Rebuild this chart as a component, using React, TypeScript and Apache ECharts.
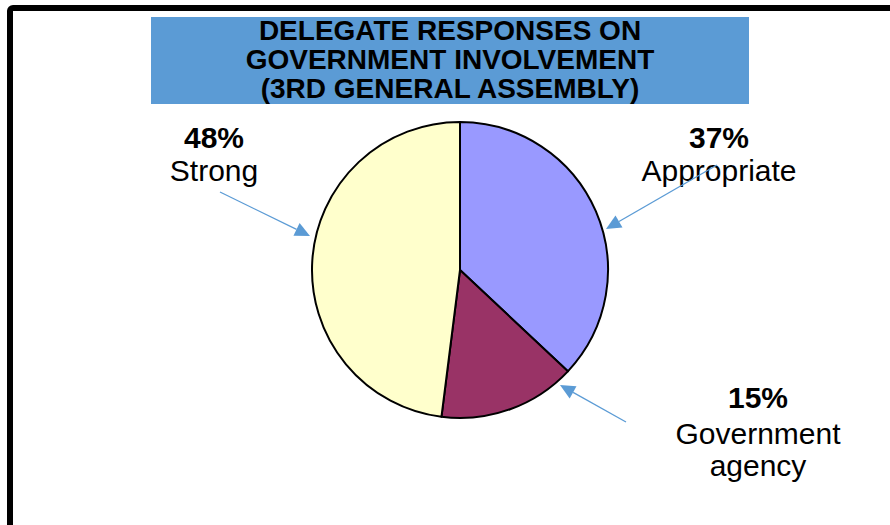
import React, { useEffect, useRef } from "react";
import * as echarts from "echarts";

// ---- data ----
const categories = ["Appropriate", "Government agency", "Strong"];
const values = [37, 15, 48];
const colors = ["#9999FF", "#993366", "#FFFFCC"];
const labelLines = [["Appropriate"], ["Government", "agency"], ["Strong"]];
const titleLines = ["DELEGATE RESPONSES ON", "GOVERNMENT INVOLVEMENT", "(3RD GENERAL ASSEMBLY)"];

// ---- layout (annotation placement) ----
const FONT = "'Liberation Sans', Arial, Helvetica, sans-serif";
const labelPos = [
  { x: 719, y: 137 },
  { x: 758, y: 397 },
  { x: 214, y: 137 },
];
const arrows = [
  { from: [717, 165], to: [606, 229] },
  { from: [626, 422], to: [560, 385] },
  { from: [220, 192], to: [310, 236] },
];

function arrowGraphics(a: { from: number[]; to: number[] }) {
  const [x1, y1] = a.from;
  const [x2, y2] = a.to;
  const dx = x2 - x1, dy = y2 - y1;
  const len = Math.sqrt(dx * dx + dy * dy);
  const ux = dx / len, uy = dy / len;
  const hl = 15, hw = 7;
  const bx = x2 - ux * hl, by = y2 - uy * hl;
  const px = -uy, py = ux;
  return [
    {
      type: "line",
      shape: { x1, y1, x2: bx, y2: by },
      style: { stroke: "#5B9BD5", lineWidth: 1.3 },
      z: 10,
    },
    {
      type: "polygon",
      shape: {
        points: [
          [x2, y2],
          [bx + px * hw, by + py * hw],
          [bx - px * hw, by - py * hw],
        ],
      },
      style: { fill: "#5B9BD5" },
      z: 10,
    },
  ];
}

export default function App() {
  const ref = useRef<HTMLDivElement>(null);
  useEffect(() => {
    document.body.style.margin = "0";
    const chart = echarts.init(ref.current!, null, { renderer: "svg" });
    const graphics: any[] = [];
    // frame
    graphics.push({
      type: "rect",
      shape: { x: 10, y: 8, width: 1000, height: 1000, r: 3 },
      style: { fill: "none", stroke: "#000", lineWidth: 6 },
      z: 1,
    });
    // title box
    graphics.push({
      type: "rect",
      shape: { x: 151, y: 17, width: 598, height: 87 },
      style: { fill: "#5B9BD5" },
      z: 2,
    });
    titleLines.forEach((t, i) => {
      graphics.push({
        type: "text",
        x: 450,
        y: 30 + i * 29,
        style: {
          text: t,
          fill: "#000",
          font: `bold 28px ${FONT}`,
          align: "center",
          verticalAlign: "middle",
        },
        z: 3,
      });
    });
    // labels
    categories.forEach((c, i) => {
      const p = labelPos[i];
      graphics.push({
        type: "text",
        x: p.x,
        y: p.y,
        style: {
          text: `${values[i]}%`,
          fill: "#000",
          font: `bold 30px ${FONT}`,
          align: "center",
          verticalAlign: "middle",
        },
        z: 5,
      });
      labelLines[i].forEach((l, j) => {
        graphics.push({
          type: "text",
          x: p.x,
          y: p.y + (i === 1 ? 36 : 33) + j * 32,
          style: {
            text: l,
            fill: "#000",
            font: `30px ${FONT}`,
            align: "center",
            verticalAlign: "middle",
          },
          z: 5,
        });
      });
    });
    arrows.forEach((a) => graphics.push(...arrowGraphics(a)));

    chart.setOption({
      animation: false,
      backgroundColor: "#fff",
      graphic: graphics,
      series: [
        {
          type: "pie",
          center: [460, 270],
          radius: 148,
          startAngle: 90,
          clockwise: true,
          label: { show: false },
          labelLine: { show: false },
          itemStyle: { borderColor: "#000", borderWidth: 2 },
          data: categories.map((c, i) => ({
            name: c,
            value: values[i],
            itemStyle: { color: colors[i] },
          })),
          z: 4,
        },
      ],
    });
    return () => chart.dispose();
  }, []);
  return <div ref={ref} style={{ width: 890, height: 525 }} />;
}
